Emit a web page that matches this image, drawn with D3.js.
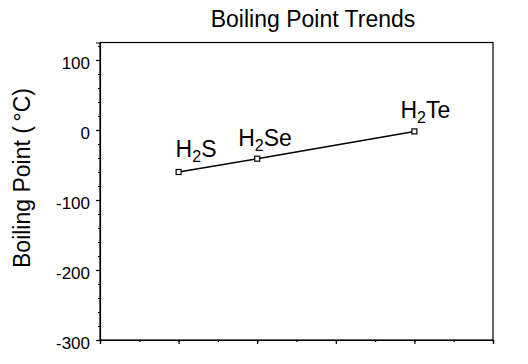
<!DOCTYPE html>
<html>
<head>
<meta charset="utf-8">
<script src="https://cdn.jsdelivr.net/npm/d3@7"></script>
<style>
  body { margin: 0; background: #fff; }
  svg { display: block; font-family: "Liberation Sans", Arial, sans-serif; }
  .axis path, .axis line { stroke: #000; stroke-width: 1.2; }
  .axis text { font-size: 17px; fill: #000; }
</style>
</head>
<body>
<div id="chart"></div>
<script>
// chart data
const compounds = ['H2S', 'H2Se', 'H2Te'];
const positions = [1, 2, 4];
const boilingPoints = [-60, -41, -2];
const yTicks = [100, 0, -100, -200, -300];

// label nudges (pixels) relative to each point
const labelShift = [[-3, -15], [-19, -13], [-14, -13]];

const W = 528, H = 364;
const margin = {top: 42.5, right: 35, bottom: 24, left: 100};
const width = W - margin.left - margin.right;
const height = H - margin.top - margin.bottom;

const svg = d3.select('#chart').append('svg')
    .attr('width', W)
    .attr('height', H);

const g = svg.append('g').attr('transform', `translate(${margin.left},${margin.top})`);

const x = d3.scaleLinear().domain([0, 5]).range([0, width]);
const y = d3.scaleLinear().domain([-300, 125]).range([height, 0]);

// minor y ticks
g.append('g')
    .attr('class', 'axis')
    .call(d3.axisLeft(y).tickValues(d3.range(-300, 125, 20)).tickSize(2).tickFormat(''))
    .select('.domain').remove();

// major y ticks (plain hyphen for negatives)
g.append('g')
    .attr('class', 'axis')
    .call(d3.axisLeft(y).tickValues(yTicks).tickSize(4).tickPadding(6).tickFormat(d => String(d)))
    .selectAll('text')
    .attr('dy', '8px');

// minor x ticks
g.append('g')
    .attr('class', 'axis')
    .attr('transform', `translate(0,${height})`)
    .call(d3.axisBottom(x).tickValues(d3.range(0, 5.01, 0.5)).tickSize(2).tickFormat(''))
    .select('.domain').remove();

// major x ticks
g.append('g')
    .attr('class', 'axis')
    .attr('transform', `translate(0,${height})`)
    .call(d3.axisBottom(x).tickValues(d3.range(0, 6)).tickSize(4).tickFormat(''));

// frame
g.append('rect')
    .attr('width', width)
    .attr('height', height)
    .attr('fill', 'none')
    .attr('stroke', '#000')
    .attr('stroke-width', 1.2);

const data = compounds.map((c, i) => ({name: c, x: positions[i], y: boilingPoints[i], shift: labelShift[i]}));

const line = d3.line()
    .x(d => x(d.x))
    .y(d => y(d.y));

g.append('path')
    .datum(data)
    .attr('fill', 'none')
    .attr('stroke', '#000')
    .attr('stroke-width', 1.5)
    .attr('d', line);

g.selectAll('.marker')
    .data(data)
    .enter().append('rect')
    .attr('class', 'marker')
    .attr('x', d => x(d.x) - 2.5)
    .attr('y', d => y(d.y) - 2.5)
    .attr('width', 5)
    .attr('height', 5)
    .attr('fill', '#fff')
    .attr('stroke', '#000')
    .attr('stroke-width', 1.2);

// formula labels with subscript 2
const labels = g.selectAll('.lbl')
    .data(data)
    .enter().append('text')
    .attr('class', 'lbl')
    .attr('x', d => x(d.x) + d.shift[0])
    .attr('y', d => y(d.y) + d.shift[1])
    .style('font-size', '23px');

labels.append('tspan').text('H');
labels.append('tspan').attr('dy', 5).style('font-size', '16px').text('2');
labels.append('tspan').attr('dy', -5).text(d => d.name.slice(2));

// title
svg.append('text')
    .attr('x', 313)
    .attr('y', 27)
    .attr('text-anchor', 'middle')
    .style('font-size', '23px')
    .text('Boiling Point Trends');

// y label
svg.append('text')
    .attr('transform', 'translate(30,178) rotate(-90)')
    .attr('text-anchor', 'middle')
    .style('font-size', '23px')
    .text('Boiling Point (\u2009°C)');
</script>
</body>
</html>
